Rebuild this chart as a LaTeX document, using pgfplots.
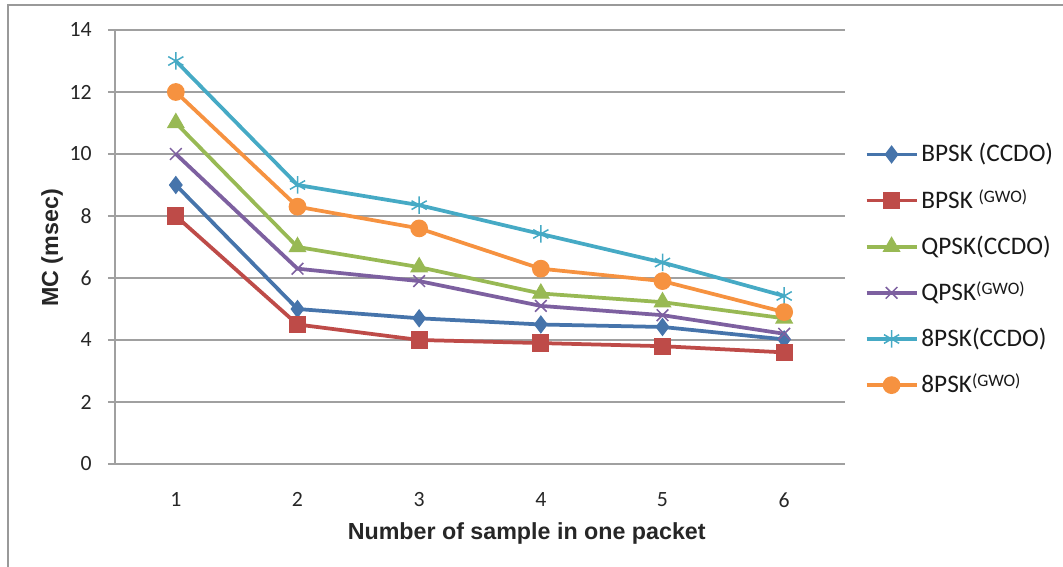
\documentclass[border=0pt]{standalone}
\usepackage{pgfplots}
\pgfplotsset{compat=1.18}
\usepackage{fontspec}
\setmainfont{Carlito}
\newfontfamily\arialb{Liberation Sans}
\definecolor{cB}{HTML}{4674AB}
\definecolor{cR}{HTML}{BE4B48}
\definecolor{cG}{HTML}{98B954}
\definecolor{cP}{HTML}{7D60A0}
\definecolor{cC}{HTML}{46AAC5}
\definecolor{cO}{HTML}{F69240}
\definecolor{gridc}{HTML}{A0A0A0}
\newcommand{\sm}[1]{{\fontsize{7pt}{7pt}\selectfont\raisebox{2.4pt}{#1}}}
\begin{document}
\begin{tikzpicture}
\useasboundingbox (0,0) rectangle (425.2pt,226.8pt);
\draw[gray!80, line width=0.8pt] (3.2pt,0pt) -- (3.2pt,224.8pt) -- (425.2pt,224.8pt);
\begin{axis}[
  at={(46pt,41.2pt)}, anchor=south west,
  scale only axis, width=292pt, height=173.6pt,
  clip=false,
  xmin=0.5, xmax=6.5, ymin=0, ymax=14,
  xtick={1,2,3,4,5,6}, ytick={0,2,...,14},
  axis lines*=left,
  axis line style={gridc, line width=0.6pt},
  x axis line style={-}, y axis line style={-},
  ymajorgrids, grid style={gridc, line width=0.6pt},
  major tick style={gridc, line width=0.6pt},
  xtick style={draw=none},
  tick align=outside, major tick length=2.8pt,
  /pgf/number format/assume math mode=true,
  tick label style={font=\fontsize{8.7pt}{10pt}\selectfont, text=black!85},
  yticklabel style={xshift=-3pt},
  xticklabel style={yshift=-5pt},
  xlabel={Number of sample in one packet},
  xlabel style={font=\arialb\bfseries\fontsize{9.3pt}{11pt}\selectfont, text=black!85, at={(axis description cs:0.564,-0.16)}, anchor=center},
  legend style={at={(axis description cs:1.016,0.763)}, anchor=north west, draw=none, fill=none,
    font=\fontsize{10.1pt}{11pt}\selectfont, text=black!90, row sep=5.5pt, cells={anchor=west},
    nodes={inner xsep=1.2pt}},
  legend image code/.code={\draw[#1] (0pt,0pt) -- (10pt,0pt) plot coordinates {(10pt,0pt)} -- (20pt,0pt);},
  every axis plot/.append style={line width=1.5pt},
]
\addplot[cB, mark=diamond*, mark size=3.3pt, mark options={solid, line width=0.5pt}] coordinates {(1,9) (2,5) (3,4.7) (4,4.5) (5,4.42) (6,4.02)};
\addlegendentry{BPSK (CCDO)}
\addplot[cR, mark=square*, mark size=3.2pt, mark options={solid, line width=0.5pt}] coordinates {(1,8) (2,4.5) (3,4.0) (4,3.9) (5,3.8) (6,3.6)};
\addlegendentry{BPSK \sm{(GWO)}}
\addplot[cG, mark=triangle*, mark size=3.7pt, mark options={solid, line width=0.5pt}] coordinates {(1,11) (2,7) (3,6.35) (4,5.5) (5,5.22) (6,4.7)};
\addlegendentry{QPSK(CCDO)}
\addplot[cP, mark=x, mark size=3.3pt, mark options={solid, line width=0.6pt}] coordinates {(1,10) (2,6.3) (3,5.9) (4,5.1) (5,4.8) (6,4.2)};
\addlegendentry{QPSK\sm{(GWO)}}
\addplot[cC, mark=asterisk, mark size=3.5pt, mark options={solid, line width=0.6pt}] coordinates {(1,13) (2,9) (3,8.35) (4,7.42) (5,6.5) (6,5.42)};
\addlegendentry{8PSK(CCDO)}
\addplot[cO, mark=*, mark size=3.3pt, mark options={solid, line width=0.5pt}] coordinates {(1,12) (2,8.3) (3,7.6) (4,6.3) (5,5.9) (6,4.9)};
\addlegendentry{8PSK\sm{(GWO)}}
\node[rotate=90, font=\arialb\bfseries\fontsize{9.3pt}{11pt}\selectfont, text=black!85] at (rel axis cs:-0.0863,0.498) {MC (msec)};
\end{axis}
\end{tikzpicture}
\end{document}
